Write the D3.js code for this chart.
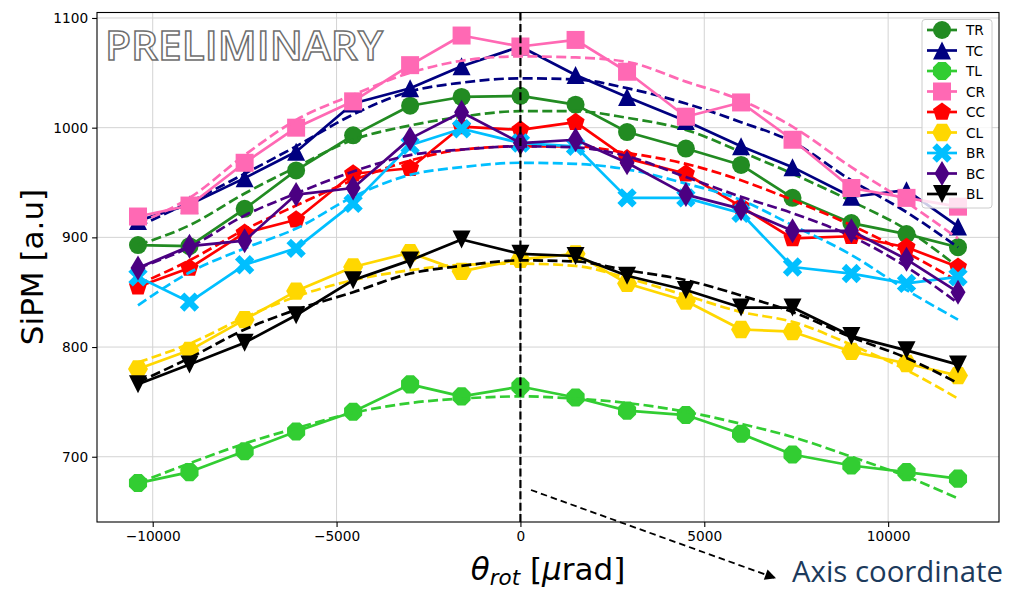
<!DOCTYPE html>
<html>
<head>
<meta charset="utf-8">
<script src="https://cdn.jsdelivr.net/npm/d3@7"></script>
<style>
body{margin:0;background:#fff;}
svg{display:block;font-family:"DejaVu Sans",sans-serif;}
</style>
</head>
<body>
<script>
// rotation angles of the measurement points (urad)
var xPos = [-10400,-9000,-7500,-6100,-4550,-3000,-1600,0,1500,2900,4500,6000,7400,9000,10500,11900];

// measured SiPM signal per channel
var TR = [893,892,926,961,993,1020,1028,1029,1021,996,981,966,936,913,903,891];
var TC = [915,930,954,978,1022,1036,1056,1074,1048,1028,1006,983,964,937,943,910];
var TL = [676,686,705,723,741,766,755,764,754,742,738,721,702,692,686,680];
var CR = [919,929,968,1000,1024,1057,1084,1074,1080,1051,1010,1023,989,945,936,928];
var CC = [855,872,904,916,958,963,1001,998,1005,972,958,928,899,901,891,873];
var CL = [780,797,825,851,873,886,869,880,885,858,842,816,814,796,785,774];
var BR = [864,841,875,890,931,984,999,986,983,936,936,922,873,867,858,864];
var BC = [872,892,897,939,945,990,1014,986,989,968,939,926,906,906,880,850];
var BL = [766,784,804,829,861,879,898,885,883,865,852,836,836,810,797,784];

// fitted curves (dashed) read at the same angles
var TRfit = [893,911,940,964,989,1002,1010,1015,1015,1009,998,978,958,933,907,873];
var TCfit = [910,932,958,983,1012,1033,1041,1045,1044,1036,1022,1005,987,952,923,891];
var TLfit = [676,694,712,726,740,749,753,755,753,749,741,730,718,700,682,662];
var CRfit = [913,936,975,1007,1030,1050,1061,1065,1064,1060,1042,1025,1001,964,932,899];
var CCfit = [857,879,907,929,952,970,980,983,983,977,967,952,934,911,886,860];
var CLfit = [786,803,827,846,861,870,875,876,874,863,847,832,823,802,779,753];
var BRfit = [838,868,890,908,937,957,964,968,967,962,949,934,911,884,852,825];
var BCfit = [872,891,920,940,960,975,980,983,982,974,955,937,922,901,873,840];
var BLfit = [768,790,816,834,850,867,874,879,878,870,861,847,832,809,790,767];

var names = ["TR","TC","TL","CR","CC","CL","BR","BC","BL"];
var values = [TR,TC,TL,CR,CC,CL,BR,BC,BL];
var fits = [TRfit,TCfit,TLfit,CRfit,CCfit,CLfit,BRfit,BCfit,BLfit];
var colors = ["#228B22","#000080","#32CD32","#FF69B4","#FF0000","#FFD700","#00BFFF","#4B0082","#000000"];
var shapes = ["circle","triUp","octagon","square","pentagon","hexagon","xfill","thinDiamond","triDown"];

var xTicks = [-10000,-5000,0,5000,10000];
var yTicks = [700,800,900,1000,1100];

var W = 1009, H = 593;
var plotL = 97, plotR = 999, plotT = 12.5, plotB = 522;//axes box in pixels

var svg = d3.select("body").append("svg").attr("width",W).attr("height",H);

var xScale = d3.scaleLinear().domain([-11515,13015]).range([plotL,plotR]);
var yScale = d3.scaleLinear().domain([640.5,1105]).range([plotB,plotT]);

function polygon(n, r, rot){//regular polygon centred on 0,0
    var pts = [];
    for(var i=0;i<n;i++){
        var a = rot + i*2*Math.PI/n;
        pts.push([r*Math.sin(a), -r*Math.cos(a)]);
    }
    return "M" + pts.map(function(p){return p[0].toFixed(2)+","+p[1].toFixed(2);}).join("L") + "Z";
}

function markerPath(shape){//marker outlines, about 18px across
    var r = 9;
    if(shape=="circle") return "M"+r+",0A"+r+","+r+" 0 1,1 "+(-r)+",0A"+r+","+r+" 0 1,1 "+r+",0Z";
    if(shape=="square") return "M-9,-9H9V9H-9Z";
    if(shape=="triUp") return "M0,-9L9,9L-9,9Z";
    if(shape=="triDown") return "M0,9L9,-9L-9,-9Z";
    if(shape=="pentagon") return polygon(5, 9.5, 0);
    if(shape=="hexagon") return polygon(6, 10, Math.PI/6);
    if(shape=="octagon") return polygon(8, 9.8, Math.PI/8);
    if(shape=="thinDiamond") return "M0,-12.5L7.5,0L0,12.5L-7.5,0Z";
    if(shape=="xfill"){//plus sign turned by 45 degrees
        var a = 3.2, L = 10.5;
        var p = [[a,a],[a,L],[-a,L],[-a,a],[-L,a],[-L,-a],[-a,-a],[-a,-L],[a,-L],[a,-a],[L,-a],[L,a]];
        var c = Math.SQRT1_2;
        return "M" + p.map(function(q){return ((q[0]-q[1])*c).toFixed(2)+","+((q[0]+q[1])*c).toFixed(2);}).join("L") + "Z";
    }
}

// grid
var grid = svg.append("g");
grid.selectAll(".gx").data(xTicks).enter().append("line")
    .attr("x1",function(d){return xScale(d);}).attr("x2",function(d){return xScale(d);})
    .attr("y1",plotT).attr("y2",plotB)
    .attr("stroke","#d3d3d3").attr("stroke-width",1);
grid.selectAll(".gy").data(yTicks).enter().append("line")
    .attr("x1",plotL).attr("x2",plotR)
    .attr("y1",function(d){return yScale(d);}).attr("y2",function(d){return yScale(d);})
    .attr("stroke","#d3d3d3").attr("stroke-width",1);

var line = d3.line().x(function(d){return xScale(d[0]);}).y(function(d){return yScale(d[1]);});
var fitLine = d3.line().curve(d3.curveMonotoneX)
    .x(function(d){return xScale(d[0]);}).y(function(d){return yScale(d[1]);});

var plot = svg.append("g");
for(var s=0;s<names.length;s++){//each channel: measured line with markers, then the fit
    var pts = xPos.map(function(x,i){return [x, values[s][i]];});
    var fpts = xPos.map(function(x,i){return [x, fits[s][i]];});
    var g = plot.append("g");
    g.append("path").attr("d",line(pts))
        .attr("fill","none").attr("stroke",colors[s]).attr("stroke-width",2.7).attr("stroke-linejoin","round");
    g.selectAll("path.m").data(pts).enter().append("path").attr("class","m")
        .attr("d",markerPath(shapes[s]))
        .attr("transform",function(d){return "translate("+xScale(d[0])+","+yScale(d[1])+")";})
        .attr("fill",colors[s]);
    g.append("path").attr("d",fitLine(fpts))
        .attr("fill","none").attr("stroke",colors[s]).attr("stroke-width",2.7)
        .attr("stroke-dasharray","10,4.4");
}

// vertical line at zero
svg.append("line")
    .attr("x1",xScale(0)).attr("x2",xScale(0)).attr("y1",plotT).attr("y2",plotB)
    .attr("stroke","#000").attr("stroke-width",2.2).attr("stroke-dasharray","8,3.4");

// spines
svg.append("rect").attr("x",plotL).attr("y",plotT).attr("width",plotR-plotL).attr("height",plotB-plotT)
    .attr("fill","none").attr("stroke","#000").attr("stroke-width",1.1);

// x axis
var xAxis = d3.axisBottom(xScale).tickValues(xTicks).tickSize(4.9).tickPadding(4).tickFormat(d3.format("d"));
var xa = svg.append("g").attr("transform","translate(0,"+plotB+")").call(xAxis);
xa.select(".domain").remove();
xa.selectAll("text").attr("font-size","13.7px").attr("font-family","DejaVu Sans").attr("fill","#000");
xa.selectAll("line").attr("stroke","#000").attr("stroke-width",1.1);

// y axis
var yAxis = d3.axisLeft(yScale).tickValues(yTicks).tickSize(4.9).tickPadding(4).tickFormat(d3.format("d"));
var ya = svg.append("g").attr("transform","translate("+plotL+",0)").call(yAxis);
ya.select(".domain").remove();
ya.selectAll("text").attr("font-size","13.7px").attr("font-family","DejaVu Sans").attr("fill","#000");
ya.selectAll("line").attr("stroke","#000").attr("stroke-width",1.1);

// axis titles
svg.append("text").attr("transform","translate(43,267) rotate(-90)")
    .attr("text-anchor","middle").attr("font-size","31px").text("SiPM [a.u]");

var xl = svg.append("text").attr("x",548).attr("y",580).attr("text-anchor","middle").attr("font-size","31px");
xl.append("tspan").attr("font-style","italic").text("θ");
xl.append("tspan").attr("font-style","italic").attr("font-size","21.5px").attr("dy",5).text("rot");
xl.append("tspan").attr("dy",-5).text(" [");
xl.append("tspan").attr("font-style","italic").text("μ");
xl.append("tspan").text("rad]");

// legend
var leg = svg.append("g");
leg.append("rect").attr("x",922).attr("y",19.5).attr("width",70).attr("height",188.5)
    .attr("rx",3).attr("fill","#fff").attr("fill-opacity",0.8).attr("stroke","#cccccc").attr("stroke-width",1);
names.forEach(function(n,i){
    var yy = 30 + i*20.5;
    leg.append("line").attr("x1",927).attr("x2",957).attr("y1",yy).attr("y2",yy)
        .attr("stroke",colors[i]).attr("stroke-width",2.7);
    leg.append("path").attr("d",markerPath(shapes[i])).attr("transform","translate(942,"+yy+")").attr("fill",colors[i]);
    leg.append("text").attr("x",966).attr("y",yy+5).attr("font-size","13.7px").text(n);
});

// PRELIMINARY stamp
svg.append("text").attr("x",105).attr("y",60).attr("font-family","Open Sans").attr("font-weight",600)
    .attr("font-size","39px").attr("textLength",278).attr("lengthAdjust","spacingAndGlyphs")
    .attr("fill","#fff").attr("stroke","#6e6e6e").attr("stroke-width",1.4)
    .text("PRELIMINARY");

// annotation arrow
svg.append("defs").append("marker").attr("id","ah")
    .attr("viewBox","0 0 10 10").attr("refX",9).attr("refY",5)
    .attr("markerWidth",12).attr("markerHeight",11).attr("markerUnits","userSpaceOnUse").attr("orient","auto")
    .append("path").attr("d","M0,0L10,5L0,10Z").attr("fill","#000");
svg.append("line").attr("x1",531).attr("y1",490).attr("x2",775).attr("y2",578)
    .attr("stroke","#000").attr("stroke-width",1.8).attr("stroke-dasharray","6.5,4")
    .attr("marker-end","url(#ah)");

svg.append("text").attr("x",792).attr("y",582).attr("font-family","Open Sans")
    .attr("font-size","30px").attr("textLength",211).attr("lengthAdjust","spacingAndGlyphs")
    .attr("fill","#1c3a5c").text("Axis coordinate");
</script>
</body>
</html>
